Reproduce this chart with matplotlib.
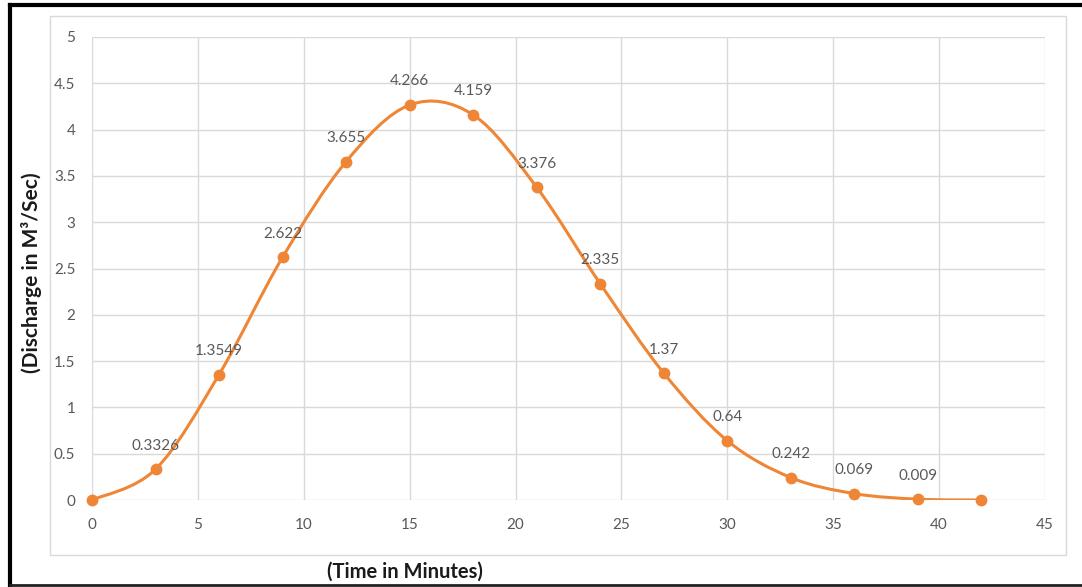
import matplotlib
matplotlib.use("Agg")
import matplotlib.pyplot as plt
from matplotlib.path import Path
from matplotlib.patches import PathPatch, Rectangle
from matplotlib.lines import Line2D
import numpy as np

# ---- data ----
time_min = [0, 3, 6, 9, 12, 15, 18, 21, 24, 27, 30, 33, 36, 39, 42]
discharge = [0, 0.3326, 1.3549, 2.622, 3.655, 4.266, 4.159, 3.376, 2.335, 1.37, 0.64, 0.242, 0.069, 0.009, 0]
point_labels = ["", "0.3326", "1.3549", "2.622", "3.655", "4.266", "4.159", "3.376",
                "2.335", "1.37", "0.64", "0.242", "0.069", "0.009", ""]
x_ticks = [0, 5, 10, 15, 20, 25, 30, 35, 40, 45]
y_ticks = [0, 0.5, 1, 1.5, 2, 2.5, 3, 3.5, 4, 4.5, 5]
y_ticklabels = ["0", "0.5", "1", "1.5", "2", "2.5", "3", "3.5", "4", "4.5", "5"]

ORANGE = "#EF8636"
GRID = "#D9D9D9"
TXT = "#595959"
FONT = "Lato"

W, H = 1082, 587
fig = plt.figure(figsize=(W / 100, H / 100), dpi=100)
fig.patch.set_facecolor("white")

ax = fig.add_axes([92 / W, 1 - 500 / H, (1045 - 92) / W, (500 - 37) / H])
ax.set_xlim(0, 45)
ax.set_ylim(0, 5)
ax.set_xticks(x_ticks)
ax.set_yticks(y_ticks)
ax.set_yticklabels(y_ticklabels)
ax.grid(True, color=GRID, linewidth=1.0)
ax.set_axisbelow(True)
for s in ax.spines.values():
    s.set_visible(False)
ax.tick_params(length=0, labelsize=11, labelcolor=TXT)
ax.tick_params(axis="y", pad=12)
ax.tick_params(axis="x", pad=13)
for lab in ax.get_xticklabels() + ax.get_yticklabels():
    lab.set_fontfamily(FONT)

# ---- smoothed line (Catmull-Rom as cubic Bezier, like Excel smoothing) ----
px = np.array(time_min, dtype=float)
py = np.array(discharge, dtype=float)
n = len(px)
verts = [(px[0], py[0])]
codes = [Path.MOVETO]
for i in range(n - 1):
    p0 = np.array([px[max(i - 1, 0)], py[max(i - 1, 0)]])
    p1 = np.array([px[i], py[i]])
    p2 = np.array([px[i + 1], py[i + 1]])
    p3 = np.array([px[min(i + 2, n - 1)], py[min(i + 2, n - 1)]])
    c1 = p1 + (p2 - p0) / 6.0
    c2 = p2 - (p3 - p1) / 6.0
    verts += [tuple(c1), tuple(c2), tuple(p2)]
    codes += [Path.CURVE4] * 3
ax.add_patch(PathPatch(Path(verts, codes), facecolor="none", edgecolor=ORANGE,
                       linewidth=2.2, capstyle="round", joinstyle="round", zorder=3))
ax.plot(time_min, discharge, linestyle="none", marker="o", markersize=7.5,
        color=ORANGE, zorder=4, clip_on=False)

for x, y, t in zip(time_min, discharge, point_labels):
    if t:
        ax.annotate(t, (x, y), xytext=(0, 17), textcoords="offset points",
                    ha="center", va="center", fontsize=11, color=TXT,
                    fontfamily=FONT, zorder=5)

# ---- axis titles ----
fig.text(32 / W, 1 - 273 / H, "(Discharge in M³/Sec)", rotation=90, ha="center",
         va="center", fontsize=15, fontweight="bold", fontfamily=FONT, color="#1a1a1a")
fig.text(405 / W, 1 - 572 / H, "(Time in Minutes)", ha="center", va="center",
         fontsize=14.5, fontweight="bold", fontfamily=FONT, color="#1a1a1a")

# ---- chart area box and outer black border ----
fig.add_artist(Rectangle((50 / W, 1 - 555 / H), (1066 - 50) / W, (555 - 16) / H,
                         transform=fig.transFigure, fill=False, edgecolor=GRID, linewidth=1.0))
fig.add_artist(Line2D([10 / W, 1], [1 - 5 / H, 1 - 5 / H], transform=fig.transFigure,
                      color="black", linewidth=3))
fig.add_artist(Line2D([10 / W, 10 / W], [1 - 5 / H, 1 - 585 / H], transform=fig.transFigure,
                      color="black", linewidth=3))
fig.add_artist(Line2D([10 / W, 1], [1 - 585 / H, 1 - 585 / H], transform=fig.transFigure,
                      color="#222222", linewidth=2))

fig.savefig("out.png", dpi=100)
